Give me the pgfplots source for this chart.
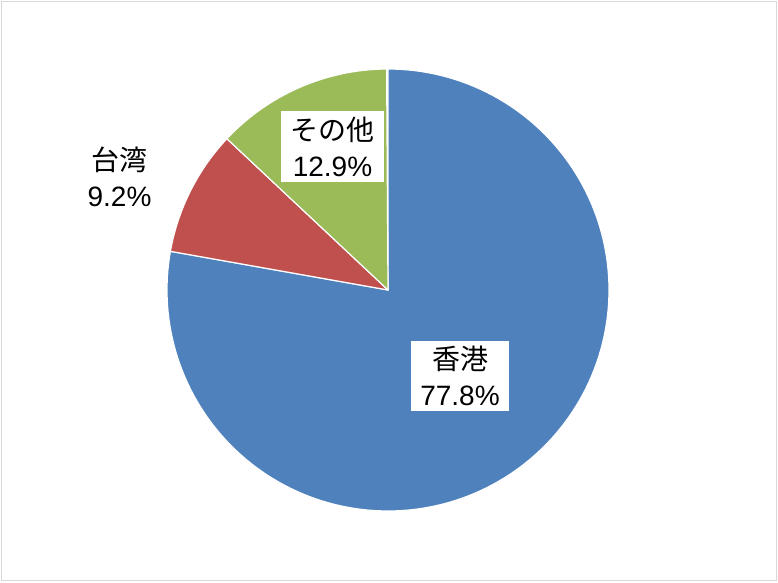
\documentclass[border=0pt]{standalone}
\usepackage{pgfplots}
\pgfplotsset{compat=1.18}
\usepackage{pgfplotstable}
\usepackage{fontspec}
\setmainfont{Liberation Sans}
\newfontfamily\cjk{Noto Sans CJK JP}
\definecolor{pieblue}{HTML}{4F81BD}
\definecolor{piered}{HTML}{C0504D}
\definecolor{piegreen}{HTML}{9BBB59}
\definecolor{framegray}{HTML}{D9D9D9}
\pgfplotstableread{
label share
HK 77.8
TW 9.2
Other 12.9
}\piedata
\pgfplotstablegetelem{0}{share}\of\piedata\let\sA\pgfplotsretval
\pgfplotstablegetelem{1}{share}\of\piedata\let\sB\pgfplotsretval
\pgfplotstablegetelem{2}{share}\of\piedata\let\sC\pgfplotsretval
\pgfmathsetmacro{\aA}{90}
\pgfmathsetmacro{\aB}{\aA-3.6*\sA}
\pgfmathsetmacro{\aC}{\aB-3.6*\sB}
\pgfmathsetmacro{\aD}{\aC-3.6*\sC}
\begin{document}%
\begin{tikzpicture}
\begin{axis}[
  x=0.75pt, y=0.75pt,
  xmin=0, xmax=778, ymin=0, ymax=582,
  hide axis, clip=false,
  every axis plot/.append style={draw=white, line width=0.9pt, line join=round},
]
\addplot[fill=pieblue, domain=\aB:\aA, samples=160, variable=\t]
  ({388+221*cos(t)},{292+221*sin(t)}) -- (axis cs:388,292) -- cycle;
\addplot[fill=piered, domain=\aC:\aB, samples=30, variable=\t]
  ({388+221*cos(t)},{292+221*sin(t)}) -- (axis cs:388,292) -- cycle;
\addplot[fill=piegreen, domain=\aD:\aC, samples=40, variable=\t]
  ({388+221*cos(t)},{292+221*sin(t)}) -- (axis cs:388,292) -- cycle;
\draw[framegray, line width=1.2pt] (axis cs:1.5,1.5) rectangle (axis cs:776.5,580.5);
\coordinate (bbsw) at (axis cs:0,0);
\coordinate (bbne) at (axis cs:778,582);
\node[fill=white, align=center, inner xsep=7pt, inner ysep=4pt, font=\fontsize{21}{27}\selectfont]
  at (axis cs:332.5,435.5) {{\cjk その他}\\12.9\%};
\node[align=center, inner sep=0pt, font=\fontsize{21}{27}\selectfont]
  at (axis cs:119.5,405) {{\cjk 台湾}\\9.2\%};
\node[fill=white, align=center, inner xsep=7pt, inner ysep=4pt, font=\fontsize{21}{27}\selectfont]
  at (axis cs:460,206) {{\cjk 香港}\\77.8\%};
\end{axis}
\pgfresetboundingbox
\path[use as bounding box] (bbsw) rectangle (bbne);
\end{tikzpicture}%
\end{document}
